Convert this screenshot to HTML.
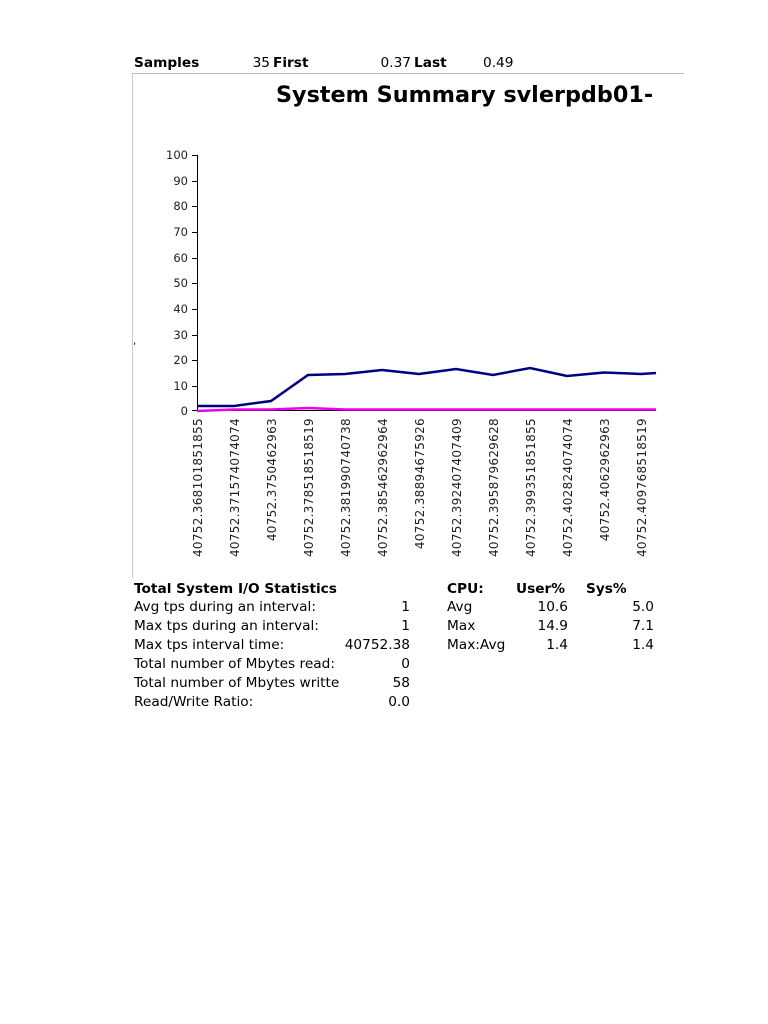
<!DOCTYPE html>
<html><head><meta charset="utf-8"><style>
html,body{margin:0;padding:0;background:#fff;}
svg{display:block;font-family:"DejaVu Sans","Liberation Sans",sans-serif;}
</style></head><body>
<svg width="768" height="1024" viewBox="0 0 768 1024" xmlns="http://www.w3.org/2000/svg">
<g font-size="13.7" fill="#000">
<text x="134" y="67" font-weight="bold">Samples</text>
<text x="270" y="67" text-anchor="end">35</text>
<text x="273" y="67" font-weight="bold">First</text>
<text x="411" y="67" text-anchor="end">0.37</text>
<text x="414" y="67" font-weight="bold">Last</text>
<text x="483" y="67">0.49</text>
</g>
<line x1="132" y1="73.5" x2="684" y2="73.5" stroke="#bbb" stroke-width="1"/>
<line x1="132.5" y1="73" x2="132.5" y2="578" stroke="#ccc" stroke-width="1"/>
<text x="276" y="102" font-size="22.3" font-weight="bold">System Summary svlerpdb01-</text>
<text x="133" y="344" font-size="10">,</text>
<g stroke="#000" stroke-width="1" fill="none">
<line x1="197.5" y1="155" x2="197.5" y2="411"/>
<line x1="197" y1="410.5" x2="656" y2="410.5"/>
</g>
<g font-size="11.5" fill="#222" text-anchor="end">
<text x="188" y="159">100</text><text x="188" y="185">90</text><text x="188" y="210">80</text>
<text x="188" y="236">70</text><text x="188" y="262">60</text><text x="188" y="287">50</text>
<text x="188" y="313">40</text><text x="188" y="339">30</text><text x="188" y="364">20</text>
<text x="188" y="390">10</text><text x="188" y="415">0</text>
</g>
<g stroke="#000" stroke-width="1">
<line x1="192" y1="155.5" x2="197" y2="155.5"/><line x1="192" y1="181.5" x2="197" y2="181.5"/>
<line x1="192" y1="206.5" x2="197" y2="206.5"/><line x1="192" y1="232.5" x2="197" y2="232.5"/>
<line x1="192" y1="258.5" x2="197" y2="258.5"/><line x1="192" y1="283.5" x2="197" y2="283.5"/>
<line x1="192" y1="309.5" x2="197" y2="309.5"/><line x1="192" y1="335.5" x2="197" y2="335.5"/>
<line x1="192" y1="360.5" x2="197" y2="360.5"/><line x1="192" y1="386.5" x2="197" y2="386.5"/>
<line x1="192" y1="410.5" x2="197" y2="410.5"/>
</g>
<polyline fill="none" stroke="#ee00ee" stroke-width="2.5" points="197,411 234,409.5 271,409.5 308,408 345,409.5 382,409.5 419,409.5 456,409.5 493,409.5 530,409.5 567,409.5 604,409.5 641,409.5 656,409.5"/>
<polyline fill="none" stroke="#000080" stroke-width="2.5" points="197,406 234,406 271,401 308,375 345,374 382,370 419,374 456,369 493,375 530,368 567,376 604,372.5 641,374 656,373"/>
<g font-size="12" fill="#222" text-anchor="end" letter-spacing="0.3">
<text transform="translate(202,418) rotate(-90)">40752.368101851855</text>
<text transform="translate(239,418) rotate(-90)">40752.371574074074</text>
<text transform="translate(276,418) rotate(-90)">40752.3750462963</text>
<text transform="translate(313,418) rotate(-90)">40752.378518518519</text>
<text transform="translate(350,418) rotate(-90)">40752.381990740738</text>
<text transform="translate(387,418) rotate(-90)">40752.385462962964</text>
<text transform="translate(424,418) rotate(-90)">40752.38894675926</text>
<text transform="translate(461,418) rotate(-90)">40752.392407407409</text>
<text transform="translate(498,418) rotate(-90)">40752.395879629628</text>
<text transform="translate(535,418) rotate(-90)">40752.399351851855</text>
<text transform="translate(572,418) rotate(-90)">40752.402824074074</text>
<text transform="translate(609,418) rotate(-90)">40752.4062962963</text>
<text transform="translate(646,418) rotate(-90)">40752.409768518519</text>
</g>
<g font-size="13.7" fill="#000">
<text x="134" y="593" font-weight="bold">Total System I/O Statistics</text>
<text x="134" y="611">Avg tps during an interval:</text><text x="410" y="611" text-anchor="end">1</text>
<text x="134" y="630">Max tps during an interval:</text><text x="410" y="630" text-anchor="end">1</text>
<text x="134" y="649">Max tps interval time:</text><text x="410" y="649" text-anchor="end">40752.38</text>
<text x="134" y="668">Total number of Mbytes read:</text><text x="410" y="668" text-anchor="end">0</text>
<text x="134" y="687">Total number of Mbytes writte</text><text x="410" y="687" text-anchor="end">58</text>
<text x="134" y="706">Read/Write Ratio:</text><text x="410" y="706" text-anchor="end">0.0</text>
<text x="447" y="593" font-weight="bold">CPU:</text>
<text x="516" y="593" font-weight="bold">User%</text>
<text x="586" y="593" font-weight="bold">Sys%</text>
<text x="447" y="611">Avg</text><text x="568" y="611" text-anchor="end">10.6</text><text x="654" y="611" text-anchor="end">5.0</text>
<text x="447" y="630">Max</text><text x="568" y="630" text-anchor="end">14.9</text><text x="654" y="630" text-anchor="end">7.1</text>
<text x="447" y="649">Max:Avg</text><text x="568" y="649" text-anchor="end">1.4</text><text x="654" y="649" text-anchor="end">1.4</text>
</g>
</svg>
</body></html>
